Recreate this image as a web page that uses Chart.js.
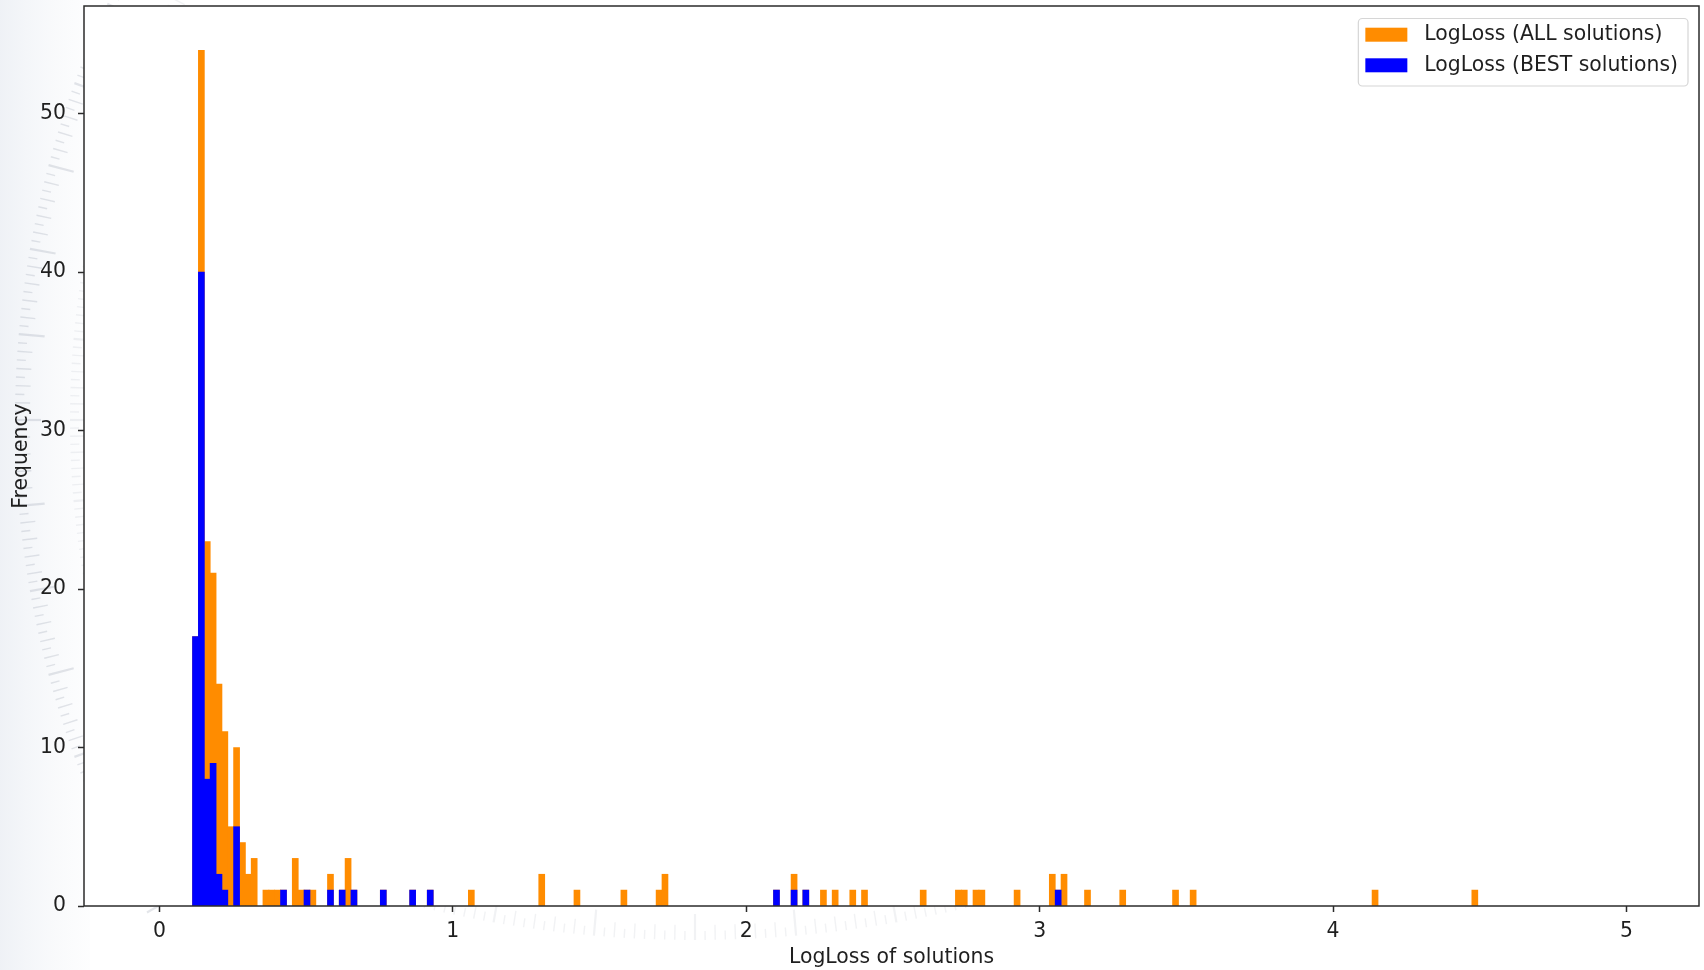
<!DOCTYPE html>
<html>
<head>
<meta charset="utf-8">
<script src="https://cdn.jsdelivr.net/npm/chart.js@4/dist/chart.umd.min.js"></script>
<style>
  html, body { margin: 0; padding: 0; background: #ffffff; }
  canvas { display: block; }
</style>
</head>
<body>
<canvas id="hist" width="1704" height="970"></canvas>
<script>
// Every bar covers one bin: [start, start + BIN_WIDTH)
const BIN_WIDTH = 0.02;

// LogLoss (ALL solutions): left edge of each non-empty bin and its count
const allBinStart = [
  0.113, 0.133, 0.153, 0.173, 0.193, 0.213, 0.233, 0.253, 0.273, 0.293,
  0.313, 0.353, 0.373, 0.393, 0.413, 0.453, 0.473, 0.493, 0.513, 0.573,
  0.613, 0.633, 0.653, 0.753, 0.853, 0.913, 1.053, 1.293, 1.413, 1.573,
  1.693, 1.713, 2.093, 2.153, 2.193, 2.253, 2.293, 2.353, 2.393, 2.593,
  2.713, 2.733, 2.773, 2.793, 2.913, 3.033, 3.053, 3.073, 3.153, 3.273,
  3.453, 3.513, 4.133, 4.473
];
const allFreq = [
  17, 54, 23, 21, 14, 11, 5, 10, 4, 2,
  3, 1, 1, 1, 1, 3, 1, 1, 1, 2,
  1, 3, 1, 1, 1, 1, 1, 2, 1, 1,
  1, 2, 1, 2, 1, 1, 1, 1, 1, 1,
  1, 1, 1, 1, 1, 2, 1, 2, 1, 1,
  1, 1, 1, 1
];

// LogLoss (BEST solutions)
const bestBinStart = [
  0.113, 0.133, 0.153, 0.173, 0.193, 0.213, 0.253, 0.413, 0.493, 0.573,
  0.613, 0.653, 0.753, 0.853, 0.913, 2.093, 2.153, 2.193, 3.053
];
const bestFreq = [
  17, 40, 8, 9, 2, 1, 5, 1, 1, 1,
  1, 1, 1, 1, 1, 1, 1, 1, 1
];

const seriesLabels = ['LogLoss (ALL solutions)', 'LogLoss (BEST solutions)'];
const xTicks = [0, 1, 2, 3, 4, 5];
const yTicks = [0, 10, 20, 30, 40, 50];
const xTitle = 'LogLoss of solutions';
const yTitle = 'Frequency';

const FONT = 'DejaVu Sans';
const TEXT = '#1f1f1f';
const SPINE = '#2b2b2b';

const toPoints = (starts, freq) =>
  starts.map((s, i) => ({ x: s + BIN_WIDTH / 2, y: freq[i] }));

const barStyle = {
  grouped: false,
  barPercentage: 1,
  categoryPercentage: 1,
  borderWidth: 0,
  inflateAmount: 0.4
};

// Faint ring of graduation marks (protractor-like backdrop behind the figure)
function drawDial(ctx, cx, cy, r, fromDeg, toDeg, alpha) {
  ctx.save();
  ctx.strokeStyle = `rgba(120,132,150,${alpha})`;
  for (let d = fromDeg; d <= toDeg; d += 0.5) {
    const t = d * Math.PI / 180;
    const isMajor = Math.abs(d % 5) < 1e-6;
    const len = isMajor ? 26 : (Math.abs(d % 1) < 1e-6 ? 15 : 9);
    ctx.lineWidth = isMajor ? 2.2 : 1.4;
    const c = Math.cos(t), s = Math.sin(t);
    ctx.beginPath();
    ctx.moveTo(cx + c * r, cy + s * r);
    ctx.lineTo(cx + c * (r - len), cy + s * (r - len));
    ctx.stroke();
  }
  ctx.restore();
}

// Figure background, backdrop, and white axes face
const backgroundPlugin = {
  id: 'figureBackground',
  beforeDraw(chart) {
    const { ctx, width, height, chartArea: a } = chart;
    ctx.save();
    ctx.fillStyle = '#ffffff';
    ctx.fillRect(0, 0, width, height);
    const g = ctx.createLinearGradient(0, 0, 90, 0);
    g.addColorStop(0, 'rgba(225,230,238,0.55)');
    g.addColorStop(1, 'rgba(240,243,247,0.15)');
    ctx.fillStyle = g;
    ctx.fillRect(0, 0, 90, height);
    drawDial(ctx, 1000, 420, 985, 150, 212, 0.2);
    drawDial(ctx, 1000, 420, 930, 150, 212, 0.1);
    drawDial(ctx, 695, -220, 1160, 76, 104, 0.1);
    ctx.fillStyle = '#ffffff';
    ctx.fillRect(a.left, a.top, a.right - a.left, a.bottom - a.top);
    ctx.restore();
  }
};

// Four-sided axes frame
const framePlugin = {
  id: 'axesFrame',
  afterDatasetsDraw(chart) {
    const { ctx, chartArea: a } = chart;
    ctx.save();
    ctx.strokeStyle = SPINE;
    ctx.lineWidth = 1.5;
    ctx.strokeRect(a.left, a.top, a.right - a.left, a.bottom - a.top);
    ctx.restore();
  }
};

// Framed legend in the upper-right corner of the axes
const legendPlugin = {
  id: 'boxLegend',
  afterDraw(chart) {
    const { ctx, chartArea: a } = chart;
    const ds = chart.data.datasets;
    ctx.save();
    ctx.font = `20.4px "${FONT}"`;
    const textW = Math.max(...ds.map(d => ctx.measureText(d.label).width));
    const handleX = 7, handleW = 42, handleH = 14, textX = 66, rowH = 30.6;
    const w = textX + textW + 10;
    const h = 67.5;
    const x = a.right - 11 - w;
    const y = a.top + 12.5;
    const r = 4;
    ctx.beginPath();
    ctx.moveTo(x + r, y);
    ctx.arcTo(x + w, y, x + w, y + h, r);
    ctx.arcTo(x + w, y + h, x, y + h, r);
    ctx.arcTo(x, y + h, x, y, r);
    ctx.arcTo(x, y, x + w, y, r);
    ctx.closePath();
    ctx.fillStyle = 'rgba(255,255,255,0.8)';
    ctx.fill();
    ctx.strokeStyle = '#d6d6d6';
    ctx.lineWidth = 1.2;
    ctx.stroke();
    ds.forEach((d, i) => {
      const cy = y + 16.2 + i * rowH;
      ctx.fillStyle = d.backgroundColor;
      ctx.fillRect(x + handleX, cy - handleH / 2, handleW, handleH);
      ctx.fillStyle = TEXT;
      ctx.textBaseline = 'middle';
      ctx.textAlign = 'left';
      ctx.fillText(d.label, x + textX, cy);
    });
    ctx.restore();
  }
};

new Chart(document.getElementById('hist'), {
  type: 'bar',
  data: {
    datasets: [
      Object.assign({
        label: seriesLabels[0],
        data: toPoints(allBinStart, allFreq),
        backgroundColor: '#ff8c00',
        order: 2
      }, barStyle),
      Object.assign({
        label: seriesLabels[1],
        data: toPoints(bestBinStart, bestFreq),
        backgroundColor: '#0000ff',
        order: 1
      }, barStyle)
    ]
  },
  options: {
    responsive: false,
    animation: false,
    devicePixelRatio: 1,
    layout: { padding: { left: 0, top: 6, right: 5, bottom: 0 } },
    plugins: {
      legend: { display: false },
      tooltip: { enabled: false }
    },
    scales: {
      x: {
        type: 'linear',
        offset: false,
        min: -0.257,
        max: 5.247,
        afterFit(scale) {
          scale.height = 64;
          scale.paddingLeft = 0;
          scale.paddingRight = 0;
        },
        afterBuildTicks(scale) { scale.ticks = xTicks.map(v => ({ value: v })); },
        border: { display: false },
        grid: {
          offset: false,
          drawOnChartArea: false,
          drawTicks: true,
          tickLength: 6,
          tickColor: SPINE,
          tickWidth: 1.5
        },
        ticks: {
          padding: 7,
          maxRotation: 0,
          color: TEXT,
          font: { family: FONT, size: 20.4 }
        },
        title: {
          display: true,
          text: xTitle,
          color: TEXT,
          font: { family: FONT, size: 20.4 },
          padding: { top: 0, bottom: 0 }
        }
      },
      y: {
        type: 'linear',
        min: 0,
        max: 56.8,
        afterFit(scale) {
          scale.width = 84;
          scale.paddingTop = 0;
          scale.paddingBottom = 0;
        },
        afterBuildTicks(scale) { scale.ticks = yTicks.map(v => ({ value: v })); },
        border: { display: false },
        grid: {
          drawOnChartArea: false,
          drawTicks: true,
          tickLength: 6,
          tickColor: SPINE,
          tickWidth: 1.5
        },
        ticks: {
          padding: 12,
          color: TEXT,
          font: { family: FONT, size: 20.4 }
        },
        title: {
          display: true,
          text: yTitle,
          color: TEXT,
          font: { family: FONT, size: 20.4 },
          padding: { top: 9.5, bottom: 0 }
        }
      }
    }
  },
  plugins: [backgroundPlugin, framePlugin, legendPlugin]
});
</script>
</body>
</html>
